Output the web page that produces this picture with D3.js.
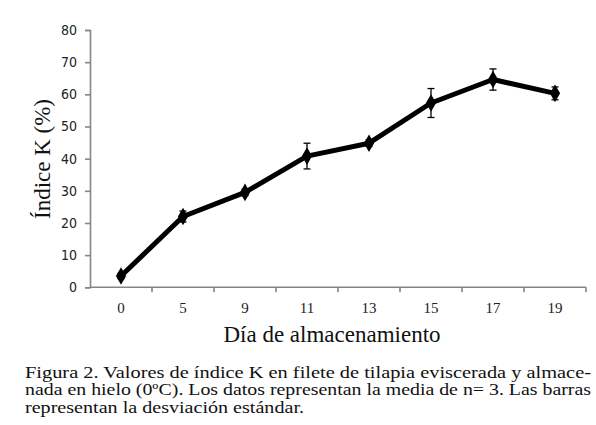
<!DOCTYPE html>
<html><head><meta charset="utf-8">
<script src="https://cdn.jsdelivr.net/npm/d3@7"></script>
<style>body{margin:0;background:#fff}</style>
</head><body>
<svg id="c" width="596" height="425"></svg>
<script>
const categories = ["0","5","9","11","13","15","17","19"];
const values = [3.5, 22, 29.5, 40.8, 44.8, 57.3, 64.6, 60.3];
const errors = [0.8, 1.7, 1.0, 4.0, 1.0, 4.5, 3.3, 2.0];
const yTicks = [0,10,20,30,40,50,60,70,80];
const yTitle = "Índice K (%)";
const xTitle = "Día de almacenamiento";
const caption = [
  "Figura 2. Valores de índice K en filete de tilapia eviscerada y almace-",
  "nada en hielo (0ºC). Los datos representan la media de n= 3. Las barras",
  "representan la desviación estándar."
];

const svg = d3.select("#c");
const L = 90, R = 586, T = 30, B = 287.3;
const x = d3.scaleBand().domain(categories).range([L, R]);
const y = d3.scaleLinear().domain([0, 80]).range([B, T]);
const axisCol = "#868686";
const tickFont = "'DejaVu Sans', sans-serif";
const serif = "'Liberation Serif', 'Times New Roman', serif";

// Y axis
const ya = svg.append("g").attr("transform", `translate(${L},0)`)
  .call(d3.axisLeft(y).tickValues(yTicks).tickSize(5).tickPadding(8));
ya.select(".domain").attr("stroke", axisCol).attr("stroke-width", 1.6);
ya.selectAll(".tick line").attr("stroke", axisCol).attr("stroke-width", 1.6);
ya.selectAll(".tick text").attr("font-family", tickFont).attr("font-size", 14).attr("fill", "#222")
  .attr("font-stretch", "condensed");

// X axis with ticks at band boundaries
const xa = svg.append("g").attr("transform", `translate(0,${B})`);
xa.append("line").attr("x1", L).attr("x2", R).attr("stroke", axisCol).attr("stroke-width", 1.6);
const bounds = categories.map(c => x(c) + x.bandwidth());
xa.selectAll("line.tk").data(bounds).join("line").attr("class","tk")
  .attr("x1", d => d).attr("x2", d => d).attr("y1", 0).attr("y2", 5)
  .attr("stroke", axisCol).attr("stroke-width", 1.6);
xa.selectAll("text").data(categories).join("text")
  .attr("x", d => x(d) + x.bandwidth()/2).attr("y", 26)
  .attr("text-anchor", "middle").attr("font-family", serif).attr("font-size", 15)
  .attr("fill", "#222").text(d => d);

// Line
const cx = c => x(c) + x.bandwidth()/2;
const pts = categories.map((c,i) => [cx(c), y(values[i])]);
svg.append("path").attr("d", d3.line()(pts)).attr("fill","none")
  .attr("stroke","#000").attr("stroke-width",5).attr("stroke-linejoin","round");

// Error bars
const eb = svg.append("g").attr("stroke","#000").attr("stroke-width",1.3);
categories.forEach((c,i) => {
  const px = cx(c), t = y(values[i]+errors[i]), b = y(values[i]-errors[i]);
  eb.append("line").attr("x1",px).attr("x2",px).attr("y1",t).attr("y2",b);
  eb.append("line").attr("x1",px-3.5).attr("x2",px+3.5).attr("y1",t).attr("y2",t);
  eb.append("line").attr("x1",px-3.5).attr("x2",px+3.5).attr("y1",b).attr("y2",b);
});

// Markers
svg.append("g").selectAll("path").data(pts).join("path")
  .attr("d", d3.symbol(d3.symbolDiamond, 90)())
  .attr("transform", d => `translate(${d[0]},${d[1]})`).attr("fill","#000");

// Titles
svg.append("text").attr("transform","translate(50,159) rotate(-90)")
  .attr("text-anchor","middle").attr("font-family",serif).attr("font-size",23)
  .attr("fill","#111").text(yTitle);
svg.append("text").attr("x",332).attr("y",342).attr("text-anchor","middle")
  .attr("font-family",serif).attr("font-size",23).attr("fill","#111").text(xTitle);

// Caption
const capY = [377.5, 395, 412.5];
const capW = [566, 566, 279];
caption.forEach((s,i) => {
  svg.append("text").attr("x",25).attr("y",capY[i])
    .attr("font-family",serif).attr("font-size",16.5).attr("fill","#111").text(s)
    .attr("textLength", capW[i]).attr("lengthAdjust","spacingAndGlyphs");
});
</script>
</body></html>
